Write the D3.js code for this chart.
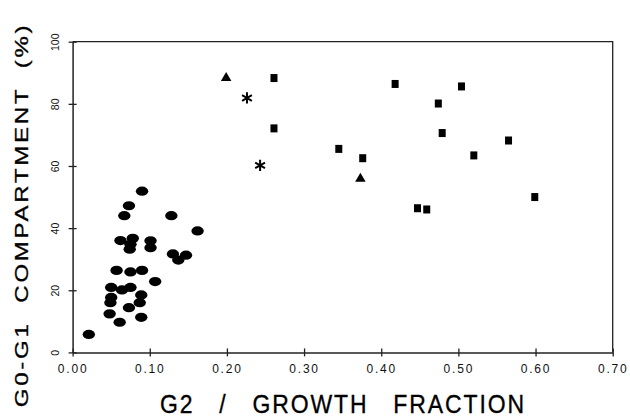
<!DOCTYPE html>
<html>
<head>
<meta charset="utf-8">
<script src="https://cdn.jsdelivr.net/npm/d3@7"></script>
<style>
  body { margin: 0; background: #fff; }
  svg { display: block; font-family: "Liberation Sans", Arial, sans-serif; }
  .title { white-space: pre; }
</style>
</head>
<body>
<div id="container"></div>
<script>
var width = 630;
var height = 420;

// data
var circleX = [0.090, 0.073, 0.067, 0.128, 0.162, 0.062, 0.078, 0.075, 0.074, 0.101,
               0.101, 0.130, 0.137, 0.147, 0.057, 0.075, 0.090, 0.107, 0.050, 0.064,
               0.075, 0.050, 0.049, 0.089, 0.087, 0.073, 0.048, 0.089, 0.061, 0.021];
var circleY = [51.9, 47.2, 44.0, 44.0, 39.1, 36.0, 36.7, 34.8, 33.2, 35.9,
               33.7, 31.7, 29.7, 31.3, 26.4, 25.9, 26.4, 22.8, 20.9, 20.1,
               20.9, 17.7, 16.0, 18.5, 16.0, 14.4, 12.4, 11.3, 9.7, 5.8];
var triangleX = [0.199, 0.373];
var triangleY = [88.3, 55.9];
var starX = [0.226, 0.243];
var starY = [81.9, 60.2];
var squareX = [0.261, 0.261, 0.345, 0.376, 0.418, 0.504, 0.474, 0.479, 0.565, 0.520, 0.599, 0.447, 0.459];
var squareY = [88.3, 72.1, 65.5, 62.5, 86.4, 85.6, 80.1, 70.6, 68.2, 63.4, 50.0, 46.4, 46.0];
var xTicks = [0, 0.1, 0.2, 0.3, 0.4, 0.5, 0.6, 0.7];
var yTicks = [0, 20, 40, 60, 80, 100];

var svg = d3.select("div#container").append("svg")
    .attr("width", width)
    .attr("height", height);

var x = d3.scaleLinear().domain([0, 0.7]).range([72.6, 612.7]);
var y = d3.scaleLinear().domain([0, 100]).range([352.4, 41.7]);

// frame (top and right)
svg.append("path")
    .attr("d", "M" + x(0) + "," + y(100) + "H" + x(0.7) + "V" + y(0))
    .attr("fill", "none")
    .attr("stroke", "#222")
    .attr("stroke-width", 1.3);

// x axis
var xAxis = svg.append("g")
    .attr("transform", "translate(0," + y(0) + ")")
    .call(d3.axisBottom(x).tickValues(xTicks).tickFormat(d3.format(".2f")).tickSizeOuter(0));
xAxis.select(".domain").attr("stroke", "#222").attr("stroke-width", 1.5);
xAxis.selectAll(".tick line").attr("y1", -4).attr("y2", 4).attr("stroke", "#222").attr("stroke-width", 1.3);
xAxis.selectAll(".tick text")
    .attr("y", 20.6)
    .attr("dy", 0)
    .attr("font-size", 12)
    .attr("letter-spacing", 1.8)
    .attr("fill", "#111");

// y axis
var yAxis = svg.append("g")
    .attr("transform", "translate(" + x(0) + ",0)")
    .call(d3.axisLeft(y).tickValues(yTicks).tickSizeOuter(0));
yAxis.select(".domain").attr("stroke", "#222").attr("stroke-width", 1.5);
yAxis.selectAll(".tick line").attr("x1", -4).attr("x2", 4).attr("stroke", "#222").attr("stroke-width", 1.3);
yAxis.selectAll(".tick text")
    .attr("x", 0)
    .attr("dy", 0)
    .attr("text-anchor", "middle")
    .attr("transform", "translate(-13.6,0) rotate(-90)")
    .attr("font-size", 10.5)
    .attr("fill", "#111");

// axis titles
svg.append("text")
    .attr("class", "title")
    .attr("transform", "translate(343,413) scale(1,1.12)")
    .attr("text-anchor", "middle")
    .attr("font-size", 23)
    .attr("letter-spacing", 1.9)
    .attr("fill", "#000")
    .attr("stroke", "#000")
    .attr("stroke-width", 0.3)
    .text("G2   /   GROWTH   FRACTION");

svg.append("text")
    .attr("class", "title")
    .attr("transform", "translate(27.5,215) rotate(-90) scale(1.3,1)")
    .attr("text-anchor", "middle")
    .attr("font-size", 18.5)
    .attr("letter-spacing", 2.1)
    .attr("fill", "#000")
    .attr("stroke", "#000")
    .attr("stroke-width", 0.3)
    .text("G0-G1  COMPARTMENT  (%)");

// circles
svg.append("g").selectAll("ellipse")
    .data(d3.range(circleX.length))
    .enter()
    .append("ellipse")
    .attr("cx", function(i) { return x(circleX[i]); })
    .attr("cy", function(i) { return y(circleY[i]); })
    .attr("rx", 6.2)
    .attr("ry", 4.6)
    .attr("fill", "#000");

// triangles
svg.append("g").selectAll("path")
    .data(d3.range(triangleX.length))
    .enter()
    .append("path")
    .attr("d", d3.symbol().type(d3.symbolTriangle).size(48))
    .attr("transform", function(i) { return "translate(" + x(triangleX[i]) + "," + y(triangleY[i]) + ")"; })
    .attr("fill", "#000");

// stars
svg.append("g").selectAll("path")
    .data(d3.range(starX.length))
    .enter()
    .append("path")
    .attr("d", d3.symbol().type(d3.symbolAsterisk).size(90))
    .attr("transform", function(i) { return "translate(" + x(starX[i]) + "," + y(starY[i]) + ")"; })
    .attr("fill", "none")
    .attr("stroke", "#000")
    .attr("stroke-width", 2);

// squares
svg.append("g").selectAll("rect")
    .data(d3.range(squareX.length))
    .enter()
    .append("rect")
    .attr("x", function(i) { return x(squareX[i]) - 3.5; })
    .attr("y", function(i) { return y(squareY[i]) - 4; })
    .attr("width", 7)
    .attr("height", 8)
    .attr("fill", "#000");
</script>
</body>
</html>
